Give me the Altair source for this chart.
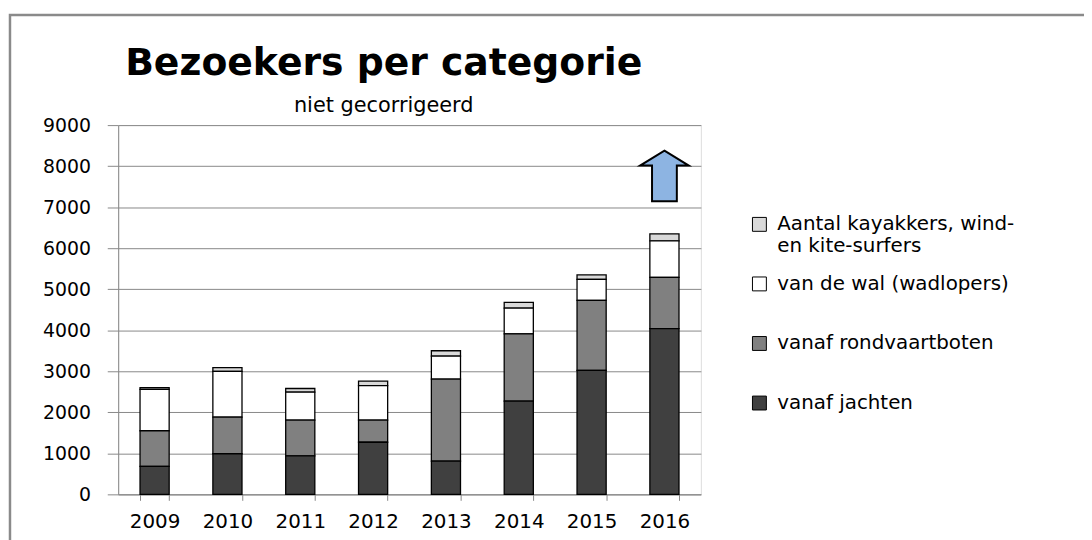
import altair as alt
import pandas as pd

years = ["2009", "2010", "2011", "2012", "2013", "2014", "2015", "2016"]
categories = [
    "Aantal kayakkers, wind- en kite-surfers",
    "van de wal (wadlopers)",
    "vanaf rondvaartboten",
    "vanaf jachten",
]
jachten = [680, 990, 940, 1270, 810, 2270, 3020, 4040]
rondvaart = [870, 890, 870, 540, 2000, 1640, 1710, 1250]
wal = [1010, 1120, 680, 840, 560, 630, 510, 890]
kayak = [40, 90, 90, 110, 130, 140, 110, 170]
colors = ["#d9d9d9", "#ffffff", "#808080", "#404040"]
y_ticks = [0, 1000, 2000, 3000, 4000, 5000, 6000, 7000, 8000, 9000]

arrow_year = ["2016"]
arrow_value = [7760]

series = [kayak, wal, rondvaart, jachten]
stack_rank = [3, 2, 1, 0]
rows = []
for cat, vals, rank in zip(categories, series, stack_rank):
    for yr, v in zip(years, vals):
        rows.append({"jaar": yr, "categorie": cat, "aantal": v, "volgorde": rank})
df = pd.DataFrame(rows)
arrow_df = pd.DataFrame({"jaar": arrow_year, "aantal": arrow_value})

FONT = "DejaVu Sans"

x_enc = alt.X(
    "jaar:N",
    sort=years,
    scale=alt.Scale(domain=years, paddingInner=0.6, paddingOuter=0.3),
    axis=alt.Axis(
        title=None, labelAngle=0, tickBand="extent", tickSize=6,
        labelPadding=11, labelFont=FONT, labelFontSize=20, labelColor="#000000",
        tickColor="#888888", domainColor="#888888", grid=False,
    ),
)
y_scale = alt.Scale(domain=[0, 9000], nice=False)

frame = alt.Chart(alt.Data(values=[{"k": 1}])).mark_rect(
    fillOpacity=0, stroke="#8a8a8a", strokeWidth=2.5
).encode(
    x=alt.value(-109), x2=alt.value(990),
    y=alt.value(-111), y2=alt.value(430),
)

bars = alt.Chart(df).mark_bar(stroke="#000000", strokeWidth=1.3).encode(
    x=x_enc,
    y=alt.Y(
        "aantal:Q", stack="zero", scale=y_scale,
        axis=alt.Axis(
            title=None, values=y_ticks, format="d", tickSize=11, labelPadding=17,
            labelFont=FONT, labelFontSize=19, labelColor="#000000",
            tickColor="#888888", domainColor="#888888",
            gridColor="#888888", gridWidth=1,
        ),
    ),
    color=alt.Color(
        "categorie:N",
        scale=alt.Scale(domain=categories, range=colors),
        legend=alt.Legend(
            title=None, orient="none", legendX=636, legendY=90,
            symbolType="square", symbolSize=196, symbolStrokeColor="#000000",
            symbolStrokeWidth=1, labelFont=FONT, labelFontSize=20,
            labelColor="#000000", labelLimit=400, labelOffset=8,
            gridAlign="all", rowPadding=18,
            labelExpr="datum.label == 'Aantal kayakkers, wind- en kite-surfers' ? ['Aantal kayakkers, wind-', 'en kite-surfers'] : datum.label",
        ),
    ),
    order=alt.Order("volgorde:Q", sort="ascending"),
)

arrow_path = "M0,-1L0.96,-0.41L0.49,-0.41L0.49,1L-0.49,1L-0.49,-0.41L-0.96,-0.41Z"
arrow = alt.Chart(arrow_df).mark_point(
    shape=arrow_path, size=2601, filled=True, fill="#8db4e2",
    stroke="#000000", strokeWidth=2, opacity=1,
).encode(
    x=alt.X("jaar:N", sort=years),
    y=alt.Y("aantal:Q", scale=y_scale),
)

chart = alt.layer(frame, bars, arrow).properties(
    width=587,
    height=372,
    padding={"left": 111, "top": 116, "right": 386, "bottom": 44},
    autosize=alt.AutoSizeParams(type="none"),
    title=alt.TitleParams(
        text="Bezoekers per categorie",
        subtitle="niet gecorrigeerd",
        anchor="middle", frame="group", dx=-26, offset=-103,
        font=FONT, fontSize=38, fontWeight="bold", color="#000000",
        subtitleFont=FONT, subtitleFontSize=21, subtitleColor="#000000",
        subtitlePadding=12,
    ),
).configure_view(stroke=None).configure(background="#ffffff")

chart.save("out.html", embed_options={"renderer": "svg", "actions": False})
